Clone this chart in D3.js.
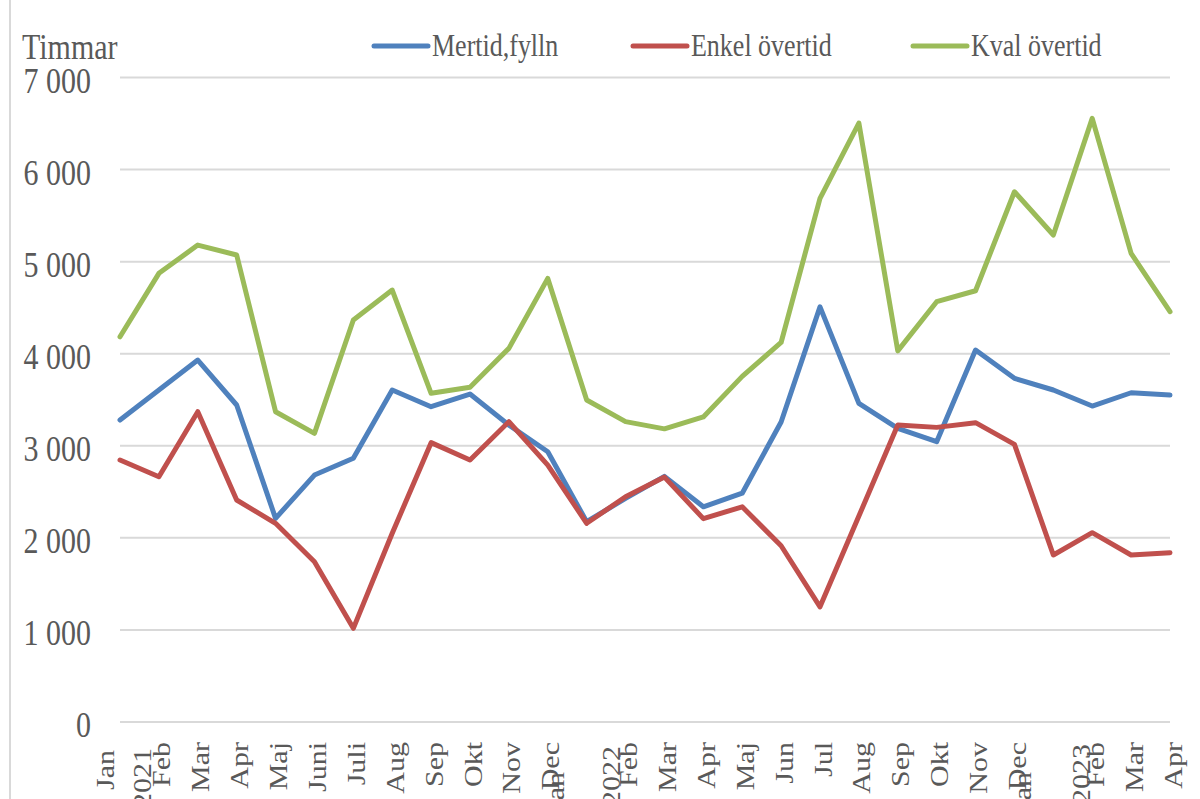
<!DOCTYPE html>
<html>
<head>
<meta charset="utf-8">
<script src="https://cdn.jsdelivr.net/npm/d3@7"></script>
<style>
  body { margin: 0; background: #fff; }
  svg text { font-family: "Liberation Serif", "DejaVu Serif", serif; fill: #595959; }
</style>
</head>
<body>
<div id="chart"></div>
<script>
// månader jan 2021 - apr 2023
const months = ["Jan", "Feb", "Mar", "Apr", "Maj", "Juni", "Juli", "Aug", "Sep", "Okt", "Nov", "Dec",
  "Jan", "Feb", "Mar", "Apr", "Maj", "Jun", "Jul", "Aug", "Sep", "Okt", "Nov", "Dec",
  "Jan", "Feb", "Mar", "Apr"];
const years = ["2021", "2022", "2023"];

const mertid = [3280, 3606, 3931, 3443, 2212, 2682, 2864, 3606, 3424, 3562, 3225, 2935,
  2175, 2429, 2668, 2337, 2485, 3258, 4509, 3460, 3190, 3044, 4040, 3733,
  3606, 3432, 3576, 3551];
const enkel = [2845, 2664, 3370, 2411, 2158, 1741, 1017, 2050, 3034, 2845, 3262, 2790,
  2158, 2447, 2660, 2209, 2337, 1914, 1251, 2237, 3225, 3200, 3251, 3016,
  1814, 2056, 1814, 1839];
const kval = [4184, 4873, 5180, 5072, 3370, 3135, 4366, 4691, 3570, 3635, 4058, 4818,
  3497, 3262, 3184, 3313, 3754, 4122, 5687, 6505, 4031, 4565, 4684, 5759,
  5289, 6556, 5090, 4456];

const seriesNames = ["Mertid,fylln", "Enkel övertid", "Kval övertid"];
const yTicks = [0, 1000, 2000, 3000, 4000, 5000, 6000, 7000];

const colors = ["#4F81BD", "#C0504D", "#9BBB59"];
const allSeries = [mertid, enkel, kval];

const width = 1200, height = 799;
const stretch = 1.2; // texten i bilden är lite utdragen på höjden

const svg = d3.select("#chart")
  .append("svg")
  .attr("width", width)
  .attr("height", height);

svg.append("rect").attr("width", width).attr("height", height).attr("fill", "#fff");

// ram till vänster
svg.append("line")
  .attr("x1", 10).attr("x2", 10)
  .attr("y1", 0).attr("y2", height)
  .attr("stroke", "#D9D9D9")
  .attr("stroke-width", 2);

const xScale = d3.scalePoint()
  .domain(d3.range(months.length))
  .range([120, 1170]);

const yScale = d3.scaleLinear()
  .domain([0, 7000])
  .range([722, 77.5]);

// stödlinjer
svg.append("g")
  .selectAll("line")
  .data(yTicks)
  .enter()
  .append("line")
  .attr("x1", 120)
  .attr("x2", 1170)
  .attr("y1", d => yScale(d))
  .attr("y2", d => yScale(d))
  .attr("stroke", "#D9D9D9")
  .attr("stroke-width", 2);

const fmt = d => d3.format(",")(d).replace(",", " ");

svg.append("g")
  .selectAll("text")
  .data(yTicks)
  .enter()
  .append("text")
  .attr("text-anchor", "end")
  .attr("font-size", 30)
  .attr("transform", d => `translate(91,${yScale(d) + 15}) scale(1,${stretch})`)
  .text(fmt);

svg.append("text")
  .attr("font-size", 30)
  .attr("transform", `translate(22,59) scale(1,${stretch})`)
  .text("Timmar");

// x-etiketter, roterade
const xLab = svg.append("g");
months.forEach((m, i) => {
  let dx = 3, top = 742;
  if (m === "Jan") {
    dx = i === 0 ? -15 : -31;
    top = i === 0 ? 750 : 772;
  }
  xLab.append("text")
    .attr("font-size", 25)
    .attr("text-anchor", "end")
    .attr("dominant-baseline", "central")
    .attr("transform", `translate(${xScale(i) + dx},${top}) scale(1,${stretch}) rotate(-90)`)
    .text(m);
});

years.forEach((y, k) => {
  const i = k * 12;
  xLab.append("text")
    .attr("font-size", 25)
    .attr("text-anchor", "end")
    .attr("dominant-baseline", "central")
    .attr("transform", `translate(${xScale(i) + 22 + k * 3},${748 - k * 2}) scale(1,${stretch}) rotate(-90)`)
    .text(y);
});

// linjerna
const line = d3.line()
  .x((d, i) => xScale(i))
  .y(d => yScale(d));

svg.append("g")
  .selectAll("path")
  .data(allSeries)
  .enter()
  .append("path")
  .attr("d", line)
  .attr("fill", "none")
  .attr("stroke", (d, i) => colors[i])
  .attr("stroke-width", 5)
  .attr("stroke-linejoin", "round")
  .attr("stroke-linecap", "round");

// legend
const legendX = [374, 633, 913];
const leg = svg.append("g")
  .selectAll("g")
  .data(seriesNames)
  .enter()
  .append("g")
  .attr("transform", (d, i) => `translate(${legendX[i]},46)`);

leg.append("line")
  .attr("x1", 0).attr("x2", 54)
  .attr("y1", 0).attr("y2", 0)
  .attr("stroke", (d, i) => colors[i])
  .attr("stroke-width", 5)
  .attr("stroke-linecap", "round");

leg.append("text")
  .attr("font-size", 26)
  .attr("transform", `translate(58,10) scale(1,${stretch})`)
  .text(d => d);
</script>
</body>
</html>
